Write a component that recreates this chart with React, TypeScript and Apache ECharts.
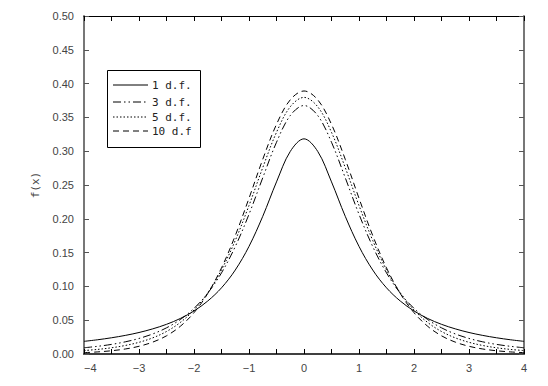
import React, { useEffect, useRef } from "react";
import * as echarts from "echarts";

const xValues = [-4, -3.75, -3.5, -3.25, -3, -2.75, -2.5, -2.25, -2, -1.75, -1.5, -1.25, -1, -0.75, -0.5, -0.25, 0, 0.25, 0.5, 0.75, 1, 1.25, 1.5, 1.75, 2, 2.25, 2.5, 2.75, 3, 3.25, 3.5, 3.75, 4];

const df1 = [0.0187, 0.0211, 0.0240, 0.0275, 0.0318, 0.0372, 0.0439, 0.0525, 0.0637, 0.0784, 0.0979, 0.1242, 0.1592, 0.2037, 0.2546, 0.2996, 0.3183, 0.2996, 0.2546, 0.2037, 0.1592, 0.1242, 0.0979, 0.0784, 0.0637, 0.0525, 0.0439, 0.0372, 0.0318, 0.0275, 0.0240, 0.0211, 0.0187];
const df3 = [0.0092, 0.0114, 0.0142, 0.0180, 0.0230, 0.0297, 0.0387, 0.0509, 0.0675, 0.0900, 0.1200, 0.1589, 0.2067, 0.2607, 0.3132, 0.3527, 0.3676, 0.3527, 0.3132, 0.2607, 0.2067, 0.1589, 0.1200, 0.0900, 0.0675, 0.0509, 0.0387, 0.0297, 0.0230, 0.0180, 0.0142, 0.0114, 0.0092];
const df5 = [0.0051, 0.0068, 0.0092, 0.0126, 0.0173, 0.0239, 0.0333, 0.0466, 0.0651, 0.0905, 0.1245, 0.1679, 0.2197, 0.2757, 0.3279, 0.3657, 0.3796, 0.3657, 0.3279, 0.2757, 0.2197, 0.1679, 0.1245, 0.0905, 0.0651, 0.0466, 0.0333, 0.0239, 0.0173, 0.0126, 0.0092, 0.0068, 0.0051];
const df10 = [0.0020, 0.0031, 0.0048, 0.0074, 0.0114, 0.0176, 0.0269, 0.0409, 0.0611, 0.0895, 0.1274, 0.1751, 0.2304, 0.2880, 0.3397, 0.3760, 0.3891, 0.3760, 0.3397, 0.2880, 0.2304, 0.1751, 0.1274, 0.0895, 0.0611, 0.0409, 0.0269, 0.0176, 0.0114, 0.0074, 0.0048, 0.0031, 0.0020];

const seriesNames = ["1 d.f.", "3 d.f.", "5 d.f.", "10 d.f"];
const seriesValues = [df1, df3, df5, df10];
const dashes: (string | number[])[] = ["solid", [8, 3, 1.5, 3, 1.5, 3], [1.5, 2], [6, 4]];

const FONT = "Liberation Sans, Arial, sans-serif";
const MONO = "DejaVu Sans Mono, monospace";
const LABEL_COLOR = "#444";

export default function App() {
  const ref = useRef<HTMLDivElement>(null);
  useEffect(() => {
    document.body.style.margin = "0";
    const chart = echarts.init(ref.current!, null, { renderer: "svg" });
    const xTicks = {
      show: true,
      inside: true,
      length: 5,
      lineStyle: { color: "#000", width: 1 },
    };
    const legendX0 = 113;
    const legendX1 = 148;
    const legendRows = [85, 102, 117, 131];
    const graphics: any[] = [
      {
        type: "rect",
        shape: { x: 107.5, y: 70.5, width: 93, height: 77 },
        style: { fill: "#fff", stroke: "#000", lineWidth: 1 },
        z: 100,
      },
    ];
    seriesNames.forEach((n, i) => {
      const d = dashes[i];
      graphics.push({
        type: "line",
        shape: { x1: legendX0, y1: legendRows[i], x2: legendX1, y2: legendRows[i] },
        style: { stroke: "#000", lineWidth: 1, lineDash: d === "solid" ? null : d },
        z: 101,
      });
      graphics.push({
        type: "text",
        x: 152,
        y: legendRows[i],
        style: {
          text: n,
          fill: "#222",
          font: `11px ${MONO}`,
          verticalAlign: "middle",
        },
        z: 101,
      });
    });

    chart.setOption({
      animation: false,
      backgroundColor: "#fff",
      grid: { left: 84, right: 24, top: 16, bottom: 32, containLabel: false },
      xAxis: [
        {
          type: "value",
          min: -4,
          max: 4,
          interval: 1,
          position: "bottom",
          axisLine: { show: true, onZero: false, lineStyle: { color: "#000", width: 1.5 } },
          axisTick: xTicks,
          minorTick: { show: true, splitNumber: 2, length: 5, lineStyle: { color: "#000", width: 1 } },
          splitLine: { show: false },
          axisLabel: {
            color: LABEL_COLOR,
            fontSize: 11,
            fontFamily: FONT,
            margin: 8,
            alignMinLabel: "left",
            formatter: (v: number) => (v < 0 ? "\u2212" + Math.abs(v) : String(v)),
          },
        },
        {
          type: "value",
          min: -4,
          max: 4,
          interval: 1,
          position: "top",
          axisLine: { show: true, onZero: false, lineStyle: { color: "#000", width: 1.2 } },
          axisTick: xTicks,
          minorTick: { show: true, splitNumber: 2, length: 5, lineStyle: { color: "#000", width: 1 } },
          splitLine: { show: false },
          axisLabel: { show: false },
        },
      ],
      yAxis: [
        {
          type: "value",
          min: 0,
          max: 0.5,
          interval: 0.05,
          position: "left",
          name: "f(x)",
          nameLocation: "middle",
          nameGap: 43,
          nameRotate: 90,
          nameTextStyle: { color: LABEL_COLOR, fontSize: 11, fontFamily: MONO },
          axisLine: { show: true, onZero: false, lineStyle: { color: "#777", width: 2 } },
          axisTick: { show: true, inside: true, length: 5, lineStyle: { color: "#555", width: 1 } },
          splitLine: { show: false },
          axisLabel: {
            color: LABEL_COLOR,
            fontSize: 11,
            fontFamily: FONT,
            margin: 10,
            formatter: (v: number) => v.toFixed(2),
          },
        },
        {
          type: "value",
          min: 0,
          max: 0.5,
          interval: 0.05,
          position: "right",
          axisLine: { show: true, onZero: false, lineStyle: { color: "#777", width: 2 } },
          axisTick: { show: true, inside: true, length: 5, lineStyle: { color: "#555", width: 1 } },
          splitLine: { show: false },
          axisLabel: { show: false },
        },
      ],
      series: seriesNames.map((n, i) => ({
        name: n,
        type: "line",
        xAxisIndex: 0,
        yAxisIndex: 0,
        showSymbol: false,
        symbol: "none",
        smooth: 0.35,
        data: xValues.map((x, j) => [x, seriesValues[i][j]]),
        lineStyle: { color: "#000", width: 1, type: dashes[i] as any },
      })),
      graphic: graphics,
    });
    return () => chart.dispose();
  }, []);
  return <div ref={ref} style={{ width: 548, height: 386 }} />;
}
